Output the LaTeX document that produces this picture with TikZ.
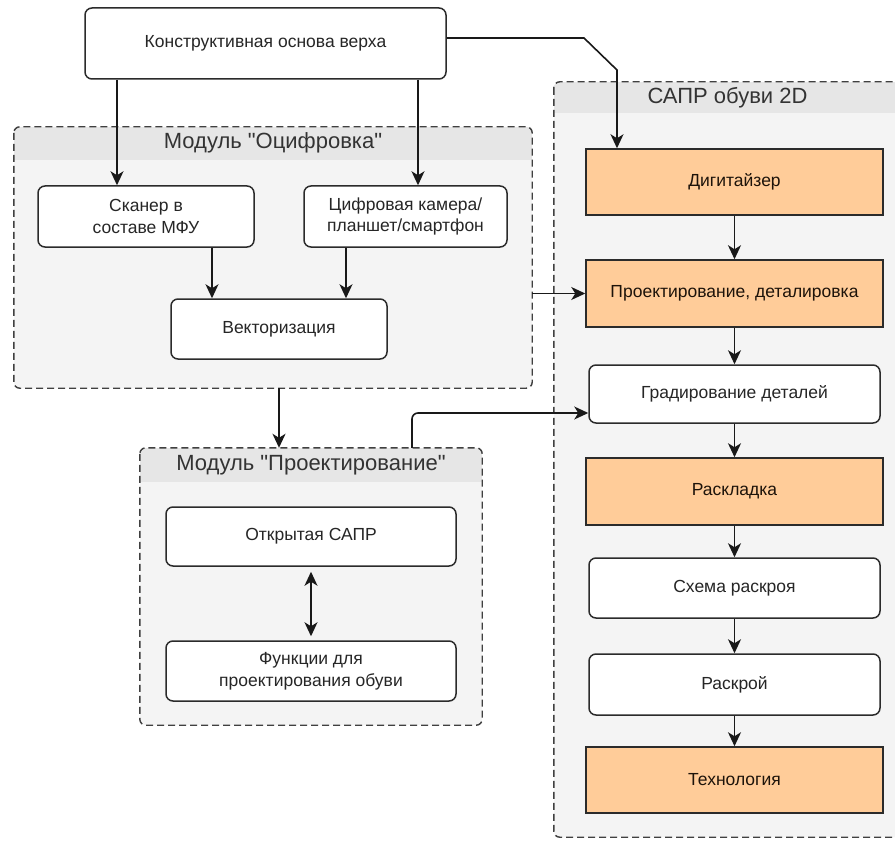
\documentclass[tikz,border=0pt]{standalone}
\usepackage{fontspec}
\newfontfamily\lsans{Liberation Sans}
\usetikzlibrary{arrows.meta, positioning, calc}

\definecolor{peach}{HTML}{FFCC99}
\definecolor{grpfill}{HTML}{F4F4F4}
\definecolor{grphead}{HTML}{E6E6E6}
\definecolor{boxline}{HTML}{2B2B2B}

\begin{document}
\begin{tikzpicture}[x=1pt, y=-1pt,
        box/.style={rectangle, draw=boxline, fill=white, rounded corners=7pt, line width=1.5pt, align=center, inner sep=0pt, font=\lsans\fontsize{17.5}{21.5}\selectfont, text=black!85},
        orange/.style={rectangle, draw=boxline, fill=peach, line width=1.5pt, align=center, inner sep=0pt, font=\lsans\fontsize{17.5}{21.5}\selectfont, text=black!85!brown},
        group/.style={rectangle, fill=grpfill, rounded corners=6pt, inner sep=0pt},
        groupline/.style={draw=black!75, dashed, dash pattern=on 7pt off 4pt, line width=1.4pt, rounded corners=6pt},
        grouptitle/.style={font=\lsans\fontsize{22}{26}\selectfont, text=black!80, inner sep=0pt},
        arrow/.style={-{Stealth[length=14pt, width=13pt, inset=4pt]}, line width=1.6pt, draw=black!90}
    ]
        \useasboundingbox (0,0) rectangle (895,848);
        \clip (0,0) rectangle (895,848);
        \fill[white] (0,0) rectangle (895,848);

        % Groups
        \node[group, minimum width=518, minimum height=261] (ocif) at (273,257.5) {};
        \node[group, minimum width=342, minimum height=277] (proekt) at (311,586.5) {};
        \node[group, minimum width=361, minimum height=755] (sapr) at (734.5,459.5) {};
        \foreach \g/\h in {ocif/33, proekt/34, sapr/31} {
            \begin{scope}
                \clip[rounded corners=6pt] (\g.north west) rectangle (\g.south east);
                \fill[grphead] (\g.north west) rectangle ([yshift=-\h pt]\g.north east);
            \end{scope}
            \draw[groupline] (\g.north west) rectangle (\g.south east);
        }
        \node[grouptitle] (ocifT) at ([yshift=-16.5pt]ocif.north) {Модуль "Оцифровка"};
        \node[grouptitle] (proektT) at ([yshift=-17pt]proekt.north) {Модуль "Проектирование"};
        \node[grouptitle] (saprT) at ([xshift=-7pt, yshift=-15.5pt]sapr.north) {САПР обуви 2D};

        % Source
        \node[box, minimum width=361, minimum height=71] (top) at (265.5,43.5) {Конструктивная основа верха};

        % Module "Ocifrovka"
        \node[box, minimum width=216, minimum height=61] (scan) at (146,216.5) {Сканер в\\составе МФУ};
        \node[box, minimum width=203, minimum height=61] (cam) at (405.5,216.5) {Цифровая камера/\\планшет/смартфон};
        \node[box, minimum width=216, minimum height=60] (vect) at (279,329) {Векторизация};

        % Module "Proektirovanie"
        \node[box, minimum width=290, minimum height=59] (open) at (311,536.5) {Открытая САПР};
        \node[box, minimum width=290, minimum height=60] (func) at (311,671) {Функции для\\проектирования обуви};

        % SAPR 2D
        \node[orange, minimum width=297, minimum height=66] (digit) at (734.5,182) {Дигитайзер};
        \node[orange, minimum width=297, minimum height=67] (proj) at (734.5,293.5) {Проектирование, деталировка};
        \node[box, minimum width=291, minimum height=58] (grad) at (734.5,394) {Градирование деталей};
        \node[orange, minimum width=297, minimum height=67] (rask) at (734.5,491.5) {Раскладка};
        \node[box, minimum width=291, minimum height=60] (scheme) at (734.5,588) {Схема раскроя};
        \node[box, minimum width=291, minimum height=61] (cut) at (734.5,684.5) {Раскрой};
        \node[orange, minimum width=297, minimum height=66] (tech) at (734.5,780) {Технология};

        % Connections
        \coordinate (bendA) at (584,38);
        \coordinate (bendB) at (617,70);
        \draw[arrow] ([xshift=-29pt]scan.north |- top.south) -- ([xshift=-29pt]scan.north);
        \draw[arrow] ([xshift=12.5pt]cam.north |- top.south) -- ([xshift=12.5pt]cam.north);
        \draw[arrow] (top.east |- bendA) -- (bendA) -- (bendB) -- (bendB |- digit.north);
        \draw[arrow] ([xshift=-67pt]vect.north |- scan.south) -- ([xshift=-67pt]vect.north);
        \draw[arrow] ([xshift=67pt]vect.north |- cam.south) -- ([xshift=67pt]vect.north);
        \draw[arrow] (ocif.east |- proj) -- (proj.west);
        \draw[arrow] (ocif.south -| vect) -- (proekt.north -| vect);
        \draw[arrow, rounded corners=6pt] ([xshift=101pt]proekt.north) |- ([yshift=-19pt]grad.west);
        \draw[arrow, {Stealth[length=14pt, width=13pt, inset=4pt]}-{Stealth[length=14pt, width=13pt, inset=4pt]}, shorten <=5pt, shorten >=4pt] (open) -- (func);
        \draw[arrow] (digit) -- (proj);
        \draw[arrow] (proj) -- (grad);
        \draw[arrow] (grad) -- (rask);
        \draw[arrow] (rask) -- (scheme);
        \draw[arrow] (scheme) -- (cut);
        \draw[arrow] (cut) -- (tech);
    \end{tikzpicture}
\end{document}
